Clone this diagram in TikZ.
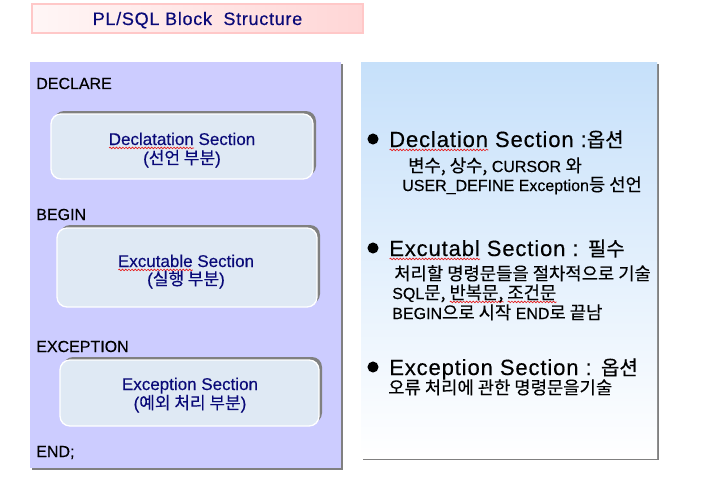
\documentclass[tikz,border=0pt]{standalone}
\usepackage{fontspec}
\setmainfont{Liberation Sans}[FakeBold=0.3]
\newfontfamily\kr{Noto Sans CJK KR}[FakeBold=0.3]
\usetikzlibrary{decorations.pathmorphing}
\definecolor{squigred}{RGB}{230,30,30}
\definecolor{navytext}{RGB}{10,10,120}
\definecolor{leftfill}{RGB}{204,204,255}
\definecolor{boxfill}{RGB}{223,233,244}
\definecolor{shadowgrey}{RGB}{128,128,128}
\definecolor{rtop}{RGB}{198,224,250}
\definecolor{pinkA}{RGB}{255,246,246}
\definecolor{pinkB}{RGB}{255,214,214}
\definecolor{pinkedge}{RGB}{255,200,200}
\newcommand\ks{\kr\fontsize{13.3}{16}\selectfont}
\newcommand\kh{\kr\fontsize{15}{18}\selectfont}
\newsavebox\squigbox
\newcommand\squig[1]{\sbox\squigbox{#1}\rlap{\tikz[baseline=0pt,x=1pt,y=1pt]{\draw[squigred, line width=0.5pt, decorate, decoration={snake, segment length=2.4pt, amplitude=0.6pt}] (0,-2.2) -- (\the\wd\squigbox,-2.2);}}\usebox\squigbox}
\begin{document}
\begin{tikzpicture}[x=0.75pt,y=-0.75pt,
  lab/.style={anchor=base west, inner sep=0pt, font=\fontsize{12}{14}\selectfont},
  bt/.style={anchor=base, inner sep=0pt, text=navytext, font=\fontsize{12.75}{15}\selectfont},
  hd/.style={anchor=base west, inner sep=0pt, font=\fontsize{16.5}{19}\selectfont\addfontfeature{LetterSpace=4}},
  sl/.style={anchor=base west, inner sep=0pt, font=\fontsize{12}{14}\selectfont},
  bul/.style={circle, fill=black, inner sep=0pt, minimum size=8.3pt},
  ibox/.style={draw=white, line width=1pt, fill=boxfill, rounded corners=7.5pt},
  ishadow/.style={fill=shadowgrey, rounded corners=7.5pt}]
\useasboundingbox (0,0) rectangle (708,496);
\fill[white] (0,0) rectangle (708,496);
% title
\path[left color=pinkA, right color=pinkB, draw=pinkedge, line width=0.8pt] (32,4) rectangle (363,33);
\node[anchor=base, inner sep=0pt, text=navytext, font=\fontsize{13.5}{16}\selectfont\addfontfeature{LetterSpace=4}] (title) at (197.5,25) {PL/SQL Block\ \ Structure};
% left panel
\fill[shadowgrey] (32,64) rectangle (343,470);
\fill[leftfill] (30,62) rectangle (341,468);
% right panel
\fill[shadowgrey] (363,64) rectangle (659,460);
\path[top color=rtop, bottom color=white] (361,62) rectangle (657,458);
% left labels
\node[lab] (decl) at (36,89) {DECLARE};
\node[lab] (beg) at (36,220) {BEGIN};
\node[lab] (exc) at (36,352) {EXCEPTION};
\node[lab] (endl) at (36,457) {END;};
% inner boxes
\fill[ishadow] (54,111) rectangle (316,176);
\path[ibox] (51,114) rectangle (313,179);
\fill[ishadow] (60,225) rectangle (320,304);
\path[ibox] (57,228) rectangle (317,307);
\fill[ishadow] (63,357) rectangle (322,423);
\path[ibox] (60,360) rectangle (319,426);
% box texts
\node[bt] (b1a) at (182,145) {\squig{Declatation} Section};
\node[bt] (b1b) at (182,164) {({\kr 선언 부분})};
\node[bt] (b2a) at (186,267) {\squig{Excutable} Section};
\node[bt] (b2b) at (186,285) {({\kr 실행 부분})};
\node[bt] (b3a) at (190,390) {Exception Section};
\node[bt] (b3b) at (190,409) {({\kr 예외 처리 부분})};
% right panel texts
\node[bul] (bu1) at (373,139) {};
\node[hd] (h1) at (389,147) {\squig{Declation} Section :{\kh 옵션}};
\node[sl] (h1a) at (408,172) {{\ks 변수, 상수,} CURSOR {\ks 와}};
\node[sl] (h1b) at (402,191) {USER\_DEFINE Exception{\ks 등 선언}};
\node[bul] (bu2) at (373,248) {};
\node[hd] (h2) at (389,256) {\squig{Excutabl} Section : {\kh 필수}};
\node[sl] (h2a) at (394,280) {\ks 처리할 명령문들을 절차적으로 기술};
\node[sl] (h2b) at (392,299) {SQL{\ks 문, \squig{반복문,} \squig{조건문}}};
\node[sl] (h2c) at (392,319) {BEGIN{\ks 으로 시작} END{\ks 로 끝남}};
\node[bul] (bu3) at (373,367) {};
\node[hd] (h3) at (389,375) {Exception Section : {\kh 옵션}};
\node[sl] (h3a) at (388,394) {\ks 오류 처리에 관한 명령문을기술};
\end{tikzpicture}
\end{document}
